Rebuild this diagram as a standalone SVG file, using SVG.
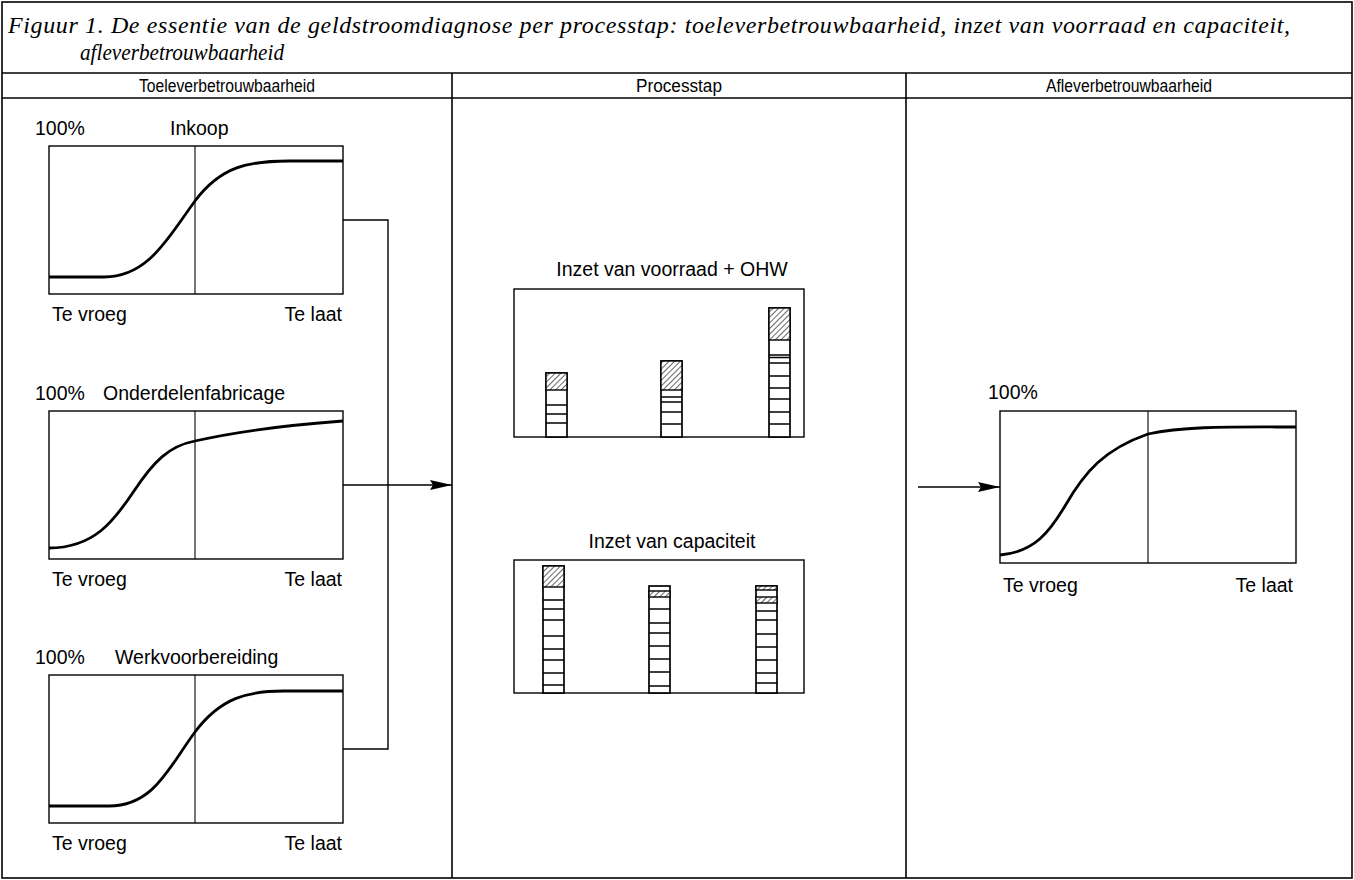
<svg xmlns="http://www.w3.org/2000/svg" width="1354" height="880" viewBox="0 0 1354 880">
<style>
.frame{fill:none;stroke:#000;stroke-width:1.6}
.box{fill:#fff;stroke:#000;stroke-width:1.4}
.mid{stroke:#000;stroke-width:1.1}
.curve{fill:none;stroke:#000;stroke-width:2.8}
.conn{fill:none;stroke:#000;stroke-width:1.4}
.bar{fill:#fff;stroke:#000;stroke-width:1.7}
.seg{stroke:#000;stroke-width:1.4}
.hat{fill:url(#hatch);stroke:#000;stroke-width:1.4}
.lbl{font-family:"Liberation Sans",Arial,sans-serif;font-size:19.5px;fill:#000}
.hdr{font-family:"Liberation Sans",Arial,sans-serif;font-size:17.5px;fill:#000;text-anchor:middle}
.ttl{font-family:"Liberation Serif","Times New Roman",serif;font-style:italic;font-size:24px;fill:#000}
</style>
<defs>
<pattern id="hatch" width="4" height="4" patternUnits="userSpaceOnUse" patternTransform="rotate(45)">
<rect width="4" height="4" fill="#fff"/>
<line x1="0" y1="0" x2="0" y2="4" stroke="#000" stroke-width="1.2"/>
</pattern>
<marker id="arr" markerUnits="userSpaceOnUse" markerWidth="22" markerHeight="10" refX="22" refY="5" orient="auto">
<path d="M0,0 L22,5 L0,10 L3,5 z" fill="#000"/>
</marker>
</defs>
<rect width="1354" height="880" fill="#fff"/>

<g id="frame">
<rect class="frame" x="2" y="2" width="1350" height="876"/>
<line class="frame" x1="2" y1="73" x2="1352" y2="73"/>
<line class="frame" x1="2" y1="98" x2="1352" y2="98"/>
<line class="frame" x1="452" y1="73" x2="452" y2="878"/>
<line class="frame" x1="906" y1="73" x2="906" y2="878"/>
</g>

<g id="title">
<text class="ttl" x="8" y="33" textLength="1282" lengthAdjust="spacing">Figuur 1. De essentie van de geldstroomdiagnose per processtap: toeleverbetrouwbaarheid, inzet van voorraad en capaciteit,</text>
<text class="ttl" x="80" y="60" textLength="204" lengthAdjust="spacingAndGlyphs">afleverbetrouwbaarheid</text>
</g>

<g id="headers">
<text class="hdr" x="227" y="92" textLength="176" lengthAdjust="spacingAndGlyphs">Toeleverbetrouwbaarheid</text>
<text class="hdr" x="679" y="92" textLength="86" lengthAdjust="spacingAndGlyphs">Processtap</text>
<text class="hdr" x="1129" y="92" textLength="166" lengthAdjust="spacingAndGlyphs">Afleverbetrouwbaarheid</text>
</g>

<g id="chart-inkoop" transform="translate(49,146)">
<text class="lbl" x="-14" y="-11">100%</text>
<text class="lbl" x="121" y="-11">Inkoop</text>
<rect class="box" x="0" y="0" width="294" height="148"/>
<line class="mid" x1="146" y1="0" x2="146" y2="148"/>
<path class="curve" d="M0,131 H55 C100,131 120,90 146,55 S200,15 240,15 H294"/>
<text class="lbl" x="3" y="175">Te vroeg</text>
<text class="lbl" x="293" y="175" text-anchor="end">Te laat</text>
</g>

<g id="chart-onderdelen" transform="translate(49,411)">
<text class="lbl" x="-14" y="-11">100%</text>
<text class="lbl" x="54" y="-11">Onderdelenfabricage</text>
<rect class="box" x="0" y="0" width="294" height="148"/>
<line class="mid" x1="146" y1="0" x2="146" y2="148"/>
<path class="curve" d="M0,137 C45,137 65,110 85,80 C105,50 120,35 146,30 C190,20 240,14 294,10"/>
<text class="lbl" x="3" y="175">Te vroeg</text>
<text class="lbl" x="293" y="175" text-anchor="end">Te laat</text>
</g>

<g id="chart-werkvoorbereiding" transform="translate(49,675)">
<text class="lbl" x="-14" y="-11">100%</text>
<text class="lbl" x="66" y="-11">Werkvoorbereiding</text>
<rect class="box" x="0" y="0" width="294" height="148"/>
<line class="mid" x1="146" y1="0" x2="146" y2="148"/>
<path class="curve" d="M0,131 H60 C105,131 120,92 146,57 S200,16 235,16 H294"/>
<text class="lbl" x="3" y="175">Te vroeg</text>
<text class="lbl" x="293" y="175" text-anchor="end">Te laat</text>
</g>

<g id="chart-voorraad">
<text class="lbl" x="672" y="276" text-anchor="middle">Inzet van voorraad + OHW</text>
<rect class="box" x="514" y="289" width="290" height="148"/>
<rect class="bar" x="546" y="373" width="21" height="64"/>
<rect class="hat" x="546" y="373" width="21" height="17"/>
<path class="seg" d="M546,405 H567 M546,414 H567 M546,423 H567"/>
<rect class="bar" x="661" y="361" width="21" height="76"/>
<rect class="hat" x="661" y="361" width="21" height="29"/>
<path class="seg" d="M661,397 H682 M661,402 H682 M661,412 H682 M661,424 H682"/>
<rect class="bar" x="769" y="308" width="21" height="129"/>
<rect class="hat" x="769" y="308" width="21" height="32"/>
<path class="seg" d="M769,355 H790 M769,357.5 H790 M769,363 H790 M769,376 H790 M769,388 H790 M769,399 H790 M769,412 H790 M769,424 H790"/>
</g>

<g id="chart-capaciteit">
<text class="lbl" x="672" y="548" text-anchor="middle">Inzet van capaciteit</text>
<rect class="box" x="514" y="560" width="290" height="133"/>
<rect class="bar" x="543" y="566" width="21" height="127"/>
<rect class="hat" x="543" y="566" width="21" height="21"/>
<path class="seg" d="M543,600 H564 M543,609 H564 M543,620 H564 M543,636 H564 M543,649 H564 M543,660 H564 M543,673 H564 M543,685 H564"/>
<rect class="bar" x="649" y="586" width="21" height="107"/>
<rect class="hat" x="649" y="591" width="21" height="6"/>
<path class="seg" d="M649,609 H670 M649,623 H670 M649,633 H670 M649,646 H670 M649,659 H670 M649,672 H670 M649,686 H670"/>
<rect class="bar" x="756" y="586" width="21" height="107"/>
<rect class="hat" x="756" y="586" width="21" height="4"/>
<rect class="hat" x="756" y="597" width="21" height="6"/>
<path class="seg" d="M756,611 H777 M756,620 H777 M756,634 H777 M756,647 H777 M756,660 H777 M756,673 H777 M756,683 H777"/>
</g>

<g id="chart-aflever" transform="translate(1000,411)">
<text class="lbl" x="-12" y="-12">100%</text>
<rect class="box" x="0" y="0" width="296" height="152"/>
<line class="mid" x1="148" y1="0" x2="148" y2="152"/>
<path class="curve" d="M0,144 C35,141 50,120 65,95 C85,60 105,38 148,23 C185,15 230,16 296,16"/>
<text class="lbl" x="3" y="181">Te vroeg</text>
<text class="lbl" x="293" y="181" text-anchor="end">Te laat</text>
</g>

<g id="connectors">
<polyline class="conn" points="343,220 388,220 388,749 343,749"/>
<line class="conn" x1="343" y1="485" x2="452" y2="485" marker-end="url(#arr)"/>
<line class="conn" x1="918" y1="487" x2="1000" y2="487" marker-end="url(#arr)"/>
</g>
</svg>
